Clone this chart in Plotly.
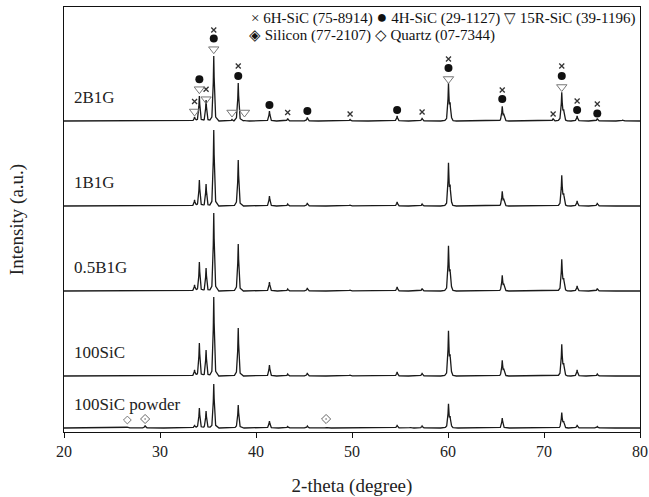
import numpy as np
import plotly.graph_objects as go

# ---------------- data ----------------
samples = ["2B1G", "1B1G", "0.5B1G", "100SiC", "100SiC powder"]

peaks_2B1G_pos = [33.6, 34.1, 34.8, 35.6, 37.5, 38.15, 38.8, 41.4, 43.3, 45.35, 49.8, 54.7, 57.3,
                  60.05, 60.22, 65.65, 65.82, 70.95, 71.85, 72.05, 73.45, 75.55, 78.2]
peaks_2B1G_int = [4, 25, 21, 65, 1.5, 38, 1, 10, 2.5, 3.5, 1.5, 5, 3,
                  36, 14, 14, 5, 2.5, 28, 10, 5, 2.5, 1]

peaks_1B1G_pos = [33.6, 34.1, 34.8, 35.6, 38.15, 41.4, 43.3, 45.35, 49.8, 54.7, 57.3,
                  60.05, 60.22, 65.65, 65.82, 71.85, 72.05, 73.45, 75.55]
peaks_1B1G_int = [6, 26, 22, 76, 46, 10, 2, 3, 1, 4, 2,
                  41, 16, 14, 5, 30, 11, 5, 3]

peaks_05B1G_pos = [33.6, 34.1, 34.8, 35.6, 38.15, 41.4, 43.3, 45.35, 49.8, 54.7, 57.3,
                   60.05, 60.22, 65.65, 65.82, 71.85, 72.05, 73.45, 75.55]
peaks_05B1G_int = [6, 29, 23, 78, 47, 9, 2, 3, 1, 4, 2.5,
                   43, 16, 15, 5, 31, 11, 5, 2.5]

peaks_100SiC_pos = [33.6, 34.1, 34.8, 35.6, 38.15, 41.4, 43.3, 45.35, 49.8, 54.7, 57.3,
                    60.05, 60.22, 65.65, 65.82, 71.85, 72.05, 73.45, 75.55]
peaks_100SiC_int = [6, 33, 26, 79, 48, 11, 2, 3, 1, 4, 3,
                    43, 16, 15, 5, 31, 11, 6, 2]

peaks_powder_pos = [26.6, 28.45, 33.6, 34.1, 34.8, 35.6, 38.15, 41.4, 43.3, 45.35, 47.3, 54.7, 56.1,
                    57.3, 60.05, 60.22, 65.65, 71.85, 72.05, 73.45, 75.55]
peaks_powder_int = [0.8, 2.5, 3, 20, 17, 44, 23, 7, 1.5, 2, 1, 3, 0.8,
                    2, 23, 9, 10, 15, 6, 3, 1.5]

# phase markers on the top pattern: position (deg) and height above its baseline
mk_6H_x = [33.6, 34.8, 35.6, 38.15, 43.3, 49.8, 57.3, 60.05, 65.65, 70.95, 71.85, 73.45, 75.55]
mk_6H_h = [19.5, 31.8, 91, 55, 8.5, 7, 9, 62, 31, 7, 55, 20, 17]
mk_4H_x = [34.1, 35.6, 38.15, 41.4, 45.35, 54.7, 60.05, 65.65, 71.85, 73.45, 75.55]
mk_4H_h = [41.8, 82.5, 45, 16, 10, 11, 53, 22, 45, 11, 7.5]
mk_15R_x = [33.6, 34.1, 34.8, 35.6, 37.5, 38.8, 60.05, 71.85]
mk_15R_h = [9.5, 31.8, 21.8, 71.8, 8.5, 8.5, 42, 34]
# markers on the powder pattern
mk_Si_x = [28.45, 47.3]
mk_Si_h = [9, 9]
mk_Qz_x = [26.6]
mk_Qz_h = [8]

x_ticks = [20, 30, 40, 50, 60, 70, 80]

# ---------------- layout constants ----------------
offsets = [311, 226, 141, 56, 4]          # vertical stacking of the patterns
FONT = "Liberation Serif"

peak_sets = [
    (peaks_2B1G_pos, peaks_2B1G_int),
    (peaks_1B1G_pos, peaks_1B1G_int),
    (peaks_05B1G_pos, peaks_05B1G_int),
    (peaks_100SiC_pos, peaks_100SiC_int),
    (peaks_powder_pos, peaks_powder_int),
]

# shape of a single diffraction line (offset in degrees, fraction of height)
shape_dx = np.array([-0.45, -0.2, -0.08, 0.0, 0.08, 0.2, 0.45])
shape_fr = np.array([0.0, 0.06, 0.35, 1.0, 0.35, 0.06, 0.0])

grid = np.round(np.arange(20.0, 80.0001, 0.01), 3)


def pattern(pos, inten):
    y = np.zeros_like(grid)
    for p, h in zip(pos, inten):
        y += h * np.interp(grid, p + shape_dx, shape_fr, left=0, right=0)
    return y


fig = go.Figure()

for name, (pos, inten), off in zip(samples, peak_sets, offsets):
    fig.add_trace(go.Scatter(x=grid, y=pattern(pos, inten) + off, mode="lines",
                             line=dict(color="#1a1a1a", width=1.3), name=name,
                             showlegend=False, hoverinfo="skip"))
    fig.add_annotation(x=20.85, y=off + 24, text=name, showarrow=False, xanchor="left",
                       yanchor="middle", font=dict(family=FONT, size=17, color="#222"))

top = offsets[0]
bot = offsets[-1]
fig.add_trace(go.Scatter(x=mk_6H_x, y=[top + h for h in mk_6H_h], mode="markers",
                         marker=dict(symbol="x-thin", size=5, line=dict(width=1.3, color="#333")),
                         showlegend=False, hoverinfo="skip"))
fig.add_trace(go.Scatter(x=mk_4H_x, y=[top + h for h in mk_4H_h], mode="markers",
                         marker=dict(symbol="circle", size=8, color="#111"),
                         showlegend=False, hoverinfo="skip"))
fig.add_trace(go.Scatter(x=mk_15R_x, y=[top + h for h in mk_15R_h], mode="markers",
                         marker=dict(symbol="triangle-down-open", size=9,
                                     line=dict(width=1, color="#777"), color="#777"),
                         showlegend=False, hoverinfo="skip"))
fig.add_trace(go.Scatter(x=mk_Si_x, y=[bot + h for h in mk_Si_h], mode="markers",
                         marker=dict(symbol="diamond-open-dot", size=7,
                                     line=dict(width=1, color="#666"), color="#666"),
                         showlegend=False, hoverinfo="skip"))
fig.add_trace(go.Scatter(x=mk_Qz_x, y=[bot + h for h in mk_Qz_h], mode="markers",
                         marker=dict(symbol="diamond-open", size=6,
                                     line=dict(width=1, color="#777"), color="#777"),
                         showlegend=False, hoverinfo="skip"))

# legend text
fig.add_annotation(xref="paper", yref="paper", x=0.995, y=0.976, xanchor="right", yanchor="middle",
                   text=("× 6H-SiC (75-8914) <span style='font-size:18px'>●</span> 4H-SiC (29-1127) "
                         "▽ 15R-SiC (39-1196)"),
                   showarrow=False, font=dict(family=FONT, size=15, color="#111"))
fig.add_annotation(xref="paper", yref="paper", x=0.318, y=0.934, xanchor="left", yanchor="middle",
                   text="◈ Silicon (77-2107) ◇ Quartz (07-7344)",
                   showarrow=False, font=dict(family=FONT, size=15, color="#111"))

fig.update_layout(
    width=649, height=497,
    margin=dict(l=64, r=9, t=7, b=65, autoexpand=False),
    paper_bgcolor="white", plot_bgcolor="white",
    font=dict(family=FONT, color="#222"),
    showlegend=False,
)
fig.update_xaxes(range=[20, 80], tickvals=x_ticks, ticktext=[str(t) for t in x_ticks],
                 showline=True, linecolor="#111", linewidth=1.3, mirror=True,
                 ticks="outside", ticklen=5, tickwidth=1.2, tickcolor="#111",
                 showgrid=False, zeroline=False, automargin=False,
                 tickfont=dict(family=FONT, size=16, color="#222"),
                 title=dict(text="2-theta (degree)", font=dict(family=FONT, size=19, color="#222"),
                            standoff=19))
fig.update_yaxes(range=[0, 425], showline=True, linecolor="#111", linewidth=1.3, mirror=True,
                 showticklabels=False, ticks="", showgrid=False, zeroline=False, automargin=False,
                 title=dict(text="Intensity (a.u.)", font=dict(family=FONT, size=19, color="#222"),
                            standoff=34))

fig.write_html("out.html", config={"displayModeBar": False},
               post_script="document.body.style.margin='0px';document.body.style.overflow='hidden';")
